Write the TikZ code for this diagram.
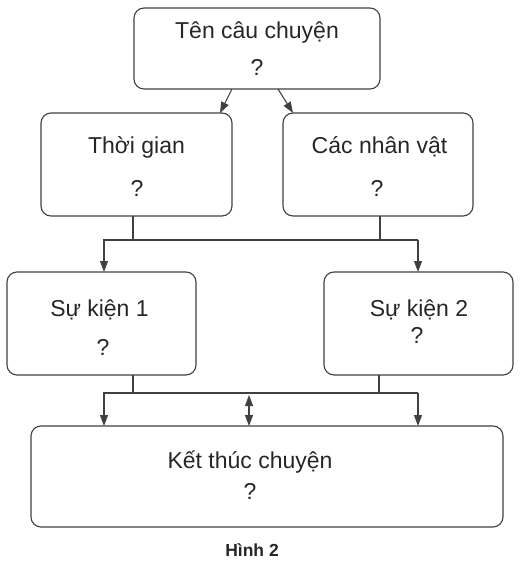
\documentclass[tikz,border=0pt]{standalone}
\usepackage{fontspec}
\setmainfont{Liberation Sans}
\usetikzlibrary{arrows.meta}

\begin{document}
\begin{tikzpicture}[x=1pt, y=-1pt,
    box/.style={draw=black!75, line width=1.1pt, rounded corners=10pt, inner sep=0pt, outer sep=0pt},
    line/.style={draw=black!75, line width=1.1pt},
    arr/.style={line, -{Triangle[length=11pt,width=8pt]}},
    dblarr/.style={line, {Triangle[length=11pt,width=8pt]}-{Triangle[length=11pt,width=8pt]}},
    lbl/.style={font=\fontsize{23}{27}\selectfont, text=black!85, inner sep=0pt}]

    \useasboundingbox (0,0) rectangle (524,561);

    %Boxes
    \node[box, minimum width=246pt, minimum height=81pt] (ten) at (257,48.5) {};
    \node[box, minimum width=191pt, minimum height=103pt] (thoi) at (136.5,164.5) {};
    \node[box, minimum width=190pt, minimum height=103pt] (nhanvat) at (378,164.5) {};
    \node[box, minimum width=189pt, minimum height=103pt] (sk1) at (101.5,323.5) {};
    \node[box, minimum width=189pt, minimum height=103pt] (sk2) at (418.5,323.5) {};
    \node[box, minimum width=472pt, minimum height=101pt] (ket) at (267,476.5) {};

    %Labels
    \node[lbl] (tenT) at (257,33) {Tên câu chuyện};
    \node[lbl] (tenQ) at (257,67) {?};
    \node[lbl] (thoiT) at (136.5,147) {Thời gian};
    \node[lbl] (thoiQ) at (137,188) {?};
    \node[lbl] (nhanvatT) at (379.5,147) {Các nhân vật};
    \node[lbl] (nhanvatQ) at (377,188) {?};
    \node[lbl] (sk1T) at (99.5,310) {Sự kiện 1};
    \node[lbl] (sk1Q) at (103,347) {?};
    \node[lbl] (sk2T) at (419,310) {Sự kiện 2};
    \node[lbl] (sk2Q) at (417,335) {?};
    \node[lbl] (ketT) at (250,462) {Kết thúc chuyện};
    \node[lbl] (ketQ) at (250,491) {?};
    \node[inner sep=0pt, font=\bfseries\fontsize{17.5}{20}\selectfont, text=black!85] (hinh) at (252,550) {Hình 2};

    %Bus points
    \coordinate (jA) at (133,240);
    \coordinate (jB) at (380,240);
    \coordinate (busA) at (104,240);
    \coordinate (busB) at (418,240);
    \coordinate (jC) at (133,393);
    \coordinate (jD) at (379,393);
    \coordinate (busC) at (104,393);
    \coordinate (busD) at (418,393);
    \coordinate (busM) at (249,393);

    %Connectors
    \draw[arr] ([xshift=-25pt]ten.south) -- ([xshift=83.5pt]thoi.north);
    \draw[arr] ([xshift=21pt]ten.south) -- ([xshift=-85pt]nhanvat.north);

    \draw[line] (thoi.south -| jA) -- (jA);
    \draw[line] (nhanvat.south -| jB) -- (jB);
    \draw[arr] (busB) -- (busA) -- (busA |- sk1.north);
    \draw[arr] (busB) -- (busB |- sk2.north);

    \draw[line] (sk1.south -| jC) -- (jC);
    \draw[line] (sk2.south -| jD) -- (jD);
    \draw[arr] (busD) -- (busC) -- (busC |- ket.north);
    \draw[arr] (busD) -- (busD |- ket.north);
    \draw[dblarr, shorten <=2pt] (busM) -- (busM |- ket.north);

\end{tikzpicture}
\end{document}
